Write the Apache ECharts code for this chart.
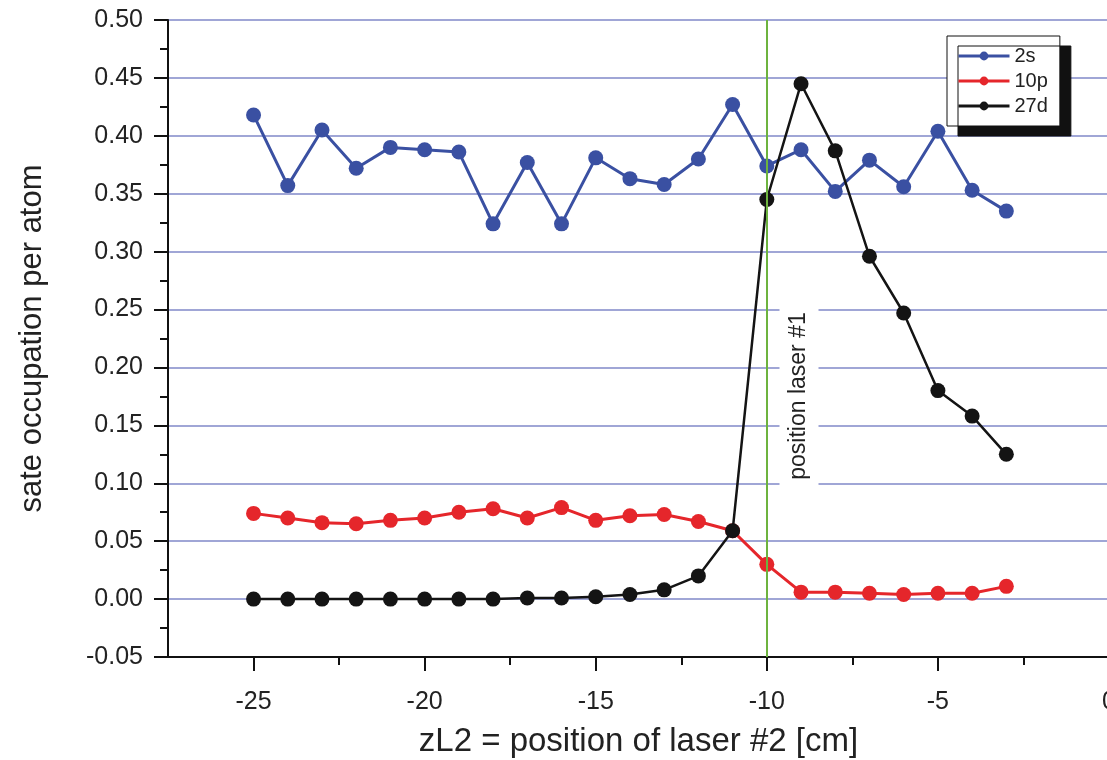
<!DOCTYPE html>
<html>
<head>
<meta charset="utf-8">
<script src="https://cdn.jsdelivr.net/npm/echarts@6/dist/echarts.min.js"></script>
<style>
  html, body { margin: 0; padding: 0; background: #ffffff; }
  #chart { width: 1107px; height: 760px; }
</style>
</head>
<body>
<div id="chart"></div>
<script>
// x positions (zL2 in cm)
const xValues = [-25, -24, -23, -22, -21, -20, -19, -18, -17, -16, -15, -14, -13, -12, -11, -10, -9, -8, -7, -6, -5, -4, -3];
// series values (state occupation per atom)
const s2 = [0.418, 0.357, 0.405, 0.372, 0.390, 0.388, 0.386, 0.324, 0.377, 0.324, 0.381, 0.363, 0.358, 0.380, 0.427, 0.374, 0.388, 0.352, 0.379, 0.356, 0.404, 0.353, 0.335];
const p10 = [0.074, 0.070, 0.066, 0.065, 0.068, 0.070, 0.075, 0.078, 0.070, 0.079, 0.068, 0.072, 0.073, 0.067, 0.059, 0.030, 0.006, 0.006, 0.005, 0.004, 0.005, 0.005, 0.011];
const d27 = [0.000, 0.000, 0.000, 0.000, 0.000, 0.000, 0.000, 0.000, 0.001, 0.001, 0.002, 0.004, 0.008, 0.020, 0.059, 0.345, 0.445, 0.387, 0.296, 0.247, 0.180, 0.158, 0.125];
const seriesNames = ['2s', '10p', '27d'];
// axis ticks
const xMajorTicks = [-25, -20, -15, -10, -5, 0];
const xMinorTicks = [-22.5, -17.5, -12.5, -7.5, -2.5];
const laserPosition = -10;
const laserLabel = 'position laser #1';

const FONT = "'Liberation Sans', Arial, Helvetica, sans-serif";
const pairs = arr => arr.map((v, i) => [xValues[i], v]);

const chart = echarts.init(document.getElementById('chart'), null, { renderer: 'canvas' });

const option = {
  backgroundColor: '#ffffff',
  animation: false,
  textStyle: { fontFamily: FONT },
  grid: { left: 168, right: -2, top: 20, bottom: 103, containLabel: false, outerBoundsMode: 'none' },
  legend: {
    orient: 'vertical',
    left: 947,
    top: 36,
    padding: [10, 12, 10, 10],
    itemWidth: 51,
    itemHeight: 11,
    itemGap: 5,
    backgroundColor: '#ffffff',
    borderColor: '#111111',
    borderWidth: 1,
    shadowColor: '#111111',
    shadowBlur: 0,
    shadowOffsetX: 11,
    shadowOffsetY: 10,
    lineStyle: { width: 3 },
    textStyle: { fontFamily: FONT, fontSize: 20, color: '#222' },
    data: seriesNames
  },
  xAxis: [
    {
      type: 'value',
      min: -27.5,
      max: 0,
      interval: 2.5,
      position: 'bottom',
      name: 'zL2 = position of laser #2 [cm]',
      nameLocation: 'middle',
      nameGap: 68,
      nameTextStyle: { fontFamily: FONT, fontSize: 33, color: '#222' },
      axisLine: { show: true, onZero: false, lineStyle: { color: '#111', width: 2 } },
      axisTick: { show: true, customValues: xMajorTicks, length: 14, lineStyle: { color: '#111', width: 2 } },
      axisLabel: { customValues: xMajorTicks, fontFamily: FONT, fontSize: 25, color: '#222', margin: 33, formatter: v => String(v) },
      splitLine: { show: false }
    },
    {
      type: 'value',
      min: -27.5,
      max: 0,
      interval: 2.5,
      position: 'bottom',
      axisLine: { show: false, onZero: false },
      axisTick: { show: true, customValues: xMinorTicks, length: 8, lineStyle: { color: '#111', width: 2 } },
      axisLabel: { show: false },
      splitLine: { show: false }
    }
  ],
  yAxis: {
    type: 'value',
    min: -0.05,
    max: 0.5,
    interval: 0.05,
    name: 'sate occupation per atom',
    nameLocation: 'middle',
    nameGap: 120,
    nameTextStyle: { fontFamily: FONT, fontSize: 31, color: '#222' },
    axisLine: { show: true, onZero: false, lineStyle: { color: '#111', width: 2 } },
    axisTick: { show: true, length: 14, lineStyle: { color: '#111', width: 2 } },
    minorTick: { show: true, splitNumber: 2, length: 8, lineStyle: { color: '#111', width: 2 } },
    axisLabel: { fontFamily: FONT, fontSize: 25, color: '#222', margin: 25, formatter: v => v.toFixed(2) },
    splitLine: { show: true, lineStyle: { color: '#8088c8', width: 1.5 } }
  },
  graphic: [
    {
      type: 'text',
      x: 799,
      y: 396,
      rotation: Math.PI / 2,
      z: 5,
      style: {
        text: laserLabel,
        fontFamily: FONT,
        fontSize: 23,
        fill: '#222',
        align: 'center',
        verticalAlign: 'middle',
        backgroundColor: '#ffffff',
        padding: [8, 12]
      }
    }
  ],
  series: [
    {
      name: '2s', type: 'line', xAxisIndex: 0, data: pairs(s2),
      symbol: 'circle', symbolSize: 15, z: 2,
      lineStyle: { color: '#3a50a2', width: 3 },
      itemStyle: { color: '#3a50a2' }
    },
    {
      name: '10p', type: 'line', xAxisIndex: 0, data: pairs(p10),
      symbol: 'circle', symbolSize: 15, z: 3,
      lineStyle: { color: '#e5262b', width: 3 },
      itemStyle: { color: '#e5262b' }
    },
    {
      name: '27d', type: 'line', xAxisIndex: 0, data: pairs(d27),
      symbol: 'circle', symbolSize: 15, z: 4,
      lineStyle: { color: '#141414', width: 2.5 },
      itemStyle: { color: '#141414' },
      markLine: {
        silent: true,
        symbol: 'none',
        label: { show: false },
        lineStyle: { color: '#6db33f', width: 2, type: 'solid' },
        data: [{ xAxis: laserPosition }]
      }
    }
  ]
};

chart.setOption(option);
</script>
</body>
</html>
